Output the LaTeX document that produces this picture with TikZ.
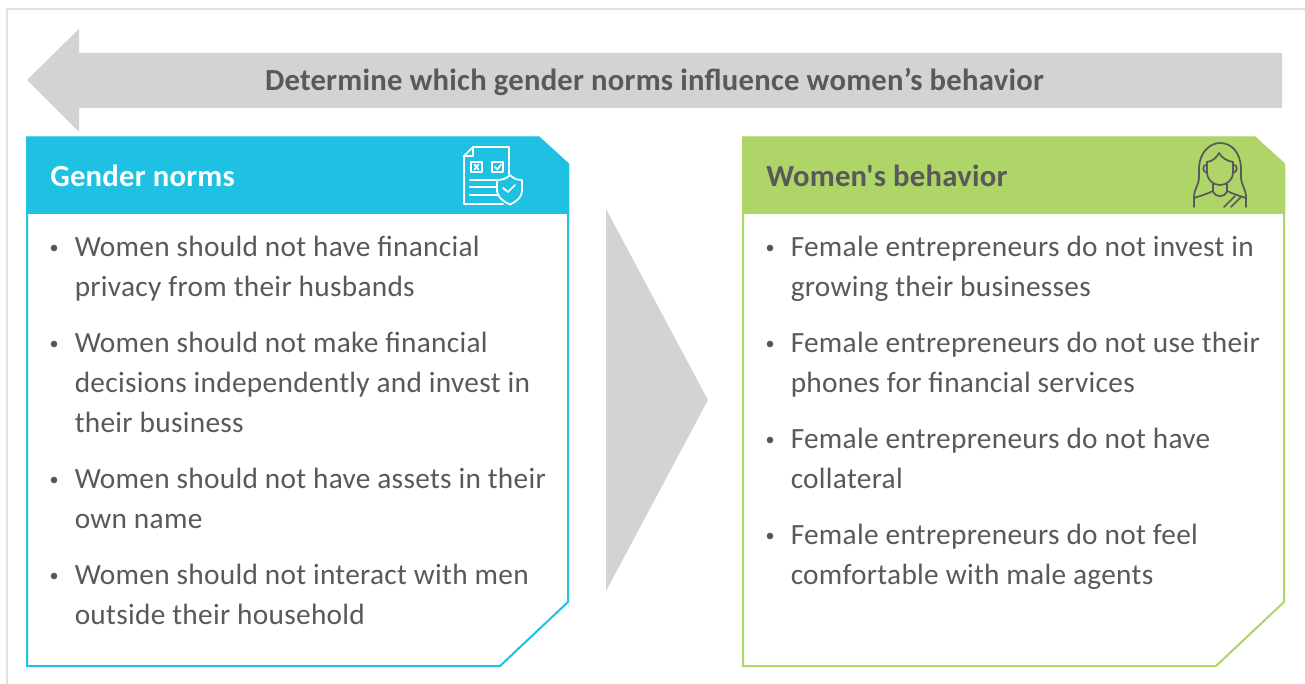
\documentclass[tikz,border=0pt]{standalone}
\usepackage{fontspec}
\setmainfont{Open Sans}
\newfontfamily\bodyfont[LetterSpace=1.0]{Carlito}
\newfontfamily\headfont[LetterSpace=0.8,BoldFont=Carlito Bold]{Carlito}
\definecolor{arrowgray}{HTML}{D1D3D4}
\definecolor{textgray}{HTML}{58595B}
\definecolor{framegray}{HTML}{E2E2E2}
\definecolor{normblue}{HTML}{1FC1E2}
\definecolor{behavgreen}{HTML}{AFD468}
\tikzset{
 x=0.75pt,y=-0.75pt,
 itemtext/.style={inner sep=0pt,align=left,text=textgray,font=\bodyfont\fontsize{22}{30}\selectfont},
 bulletdot/.style={circle,fill=textgray,inner sep=0pt,minimum size=5pt},
 headtext/.style={anchor=base west,inner sep=0pt,font=\headfont\bfseries\fontsize{23}{26}\selectfont},
 iconline/.style={line width=1.3pt,line cap=round,line join=round},
}
\begin{document}
\begin{tikzpicture}
\useasboundingbox (0,0) rectangle (1305,684);
\fill[white] (0,0) rectangle (1305,684);
\draw[framegray,line width=1.2pt] (1305,9) -- (7,9) -- (7,684);
% top arrow
\fill[arrowgray] (27,80) -- (79,29) -- (79,53) -- (1282,53) -- (1282,108) -- (79,108) -- (79,132) -- cycle;
\node[anchor=base,inner sep=0pt,text=textgray,font=\headfont\bfseries\fontsize{23}{26}\selectfont] (title) at (654.5,90.6) {Determine which gender norms influence women’s behavior};
% left panel
\draw[normblue,line width=1.5pt,fill=white] (27,137.5) -- (539,137.5) -- (568,164) -- (568,602) -- (500,666) -- (27,666) -- cycle;
\fill[normblue] (26.2,137) -- (539,137) -- (569,164) -- (569,214) -- (26.2,214) -- cycle;
\node[headtext,text=white] (lhead) at (50,187) {Gender norms};
% right panel
\draw[behavgreen,line width=1.5pt,fill=white] (743,137.5) -- (1255,137.5) -- (1284,164) -- (1284,602) -- (1216,666) -- (743,666) -- cycle;
\fill[behavgreen] (742.2,137) -- (1255,137) -- (1285,164) -- (1285,214) -- (742.2,214) -- cycle;
\node[headtext,text=textgray] (rhead) at (766,187) {Women's behavior};
% middle arrow
\fill[arrowgray] (606,209) -- (708,400) -- (606,591) -- cycle;
% left items
\foreach \yy/\txt in {256/{Women should not have financial\\privacy from their husbands},
 352/{Women should not make financial\\decisions independently and invest in\\their business},
 488/{Women should not have assets in their\\own name},
 584/{Women should not interact with men\\outside their household}}{
 \node[bulletdot] at (54,\yy-8) {};
 \node[itemtext,anchor=north west] at (74.5,\yy-20) {\txt};
}
\foreach \yy/\txt in {256/{Female entrepreneurs do not invest in\\growing their businesses},
 352/{Female entrepreneurs do not use their\\phones for financial services},
 448/{Female entrepreneurs do not have\\collateral},
 544/{Female entrepreneurs do not feel\\comfortable with male agents}}{
 \node[bulletdot] at (770,\yy-8) {};
 \node[itemtext,anchor=north west] at (790.5,\yy-20) {\txt};
}
% document icon
\begin{scope}[white,iconline]
\draw (509,174) -- (509,147) -- (473,147) -- (464,156) -- (464,204) -- (503,204);
\draw (473,147) -- (473,156) -- (464,156);
\draw (471,162) rectangle (482,172);
\draw (492,162) rectangle (503,172);
\draw (474.5,164.5) -- (478.5,169.5) (478.5,164.5) -- (474.5,169.5);
\draw (495,167) -- (497.5,169.5) -- (501,164.5);
\draw (470,180) -- (497,180) (470,187) -- (497,187) (470,195) -- (499,195);
\draw (510,175) .. controls (506,179) and (502,180) .. (497,180) -- (497,191) .. controls (497,197) and (504,202) .. (510,204.5) .. controls (516,202) and (522,197) .. (522,191) -- (522,180) .. controls (517,180) and (514,179) .. (510,175) -- cycle;
\draw (503,188) -- (508,192) -- (515,185);
\end{scope}
% woman icon
\begin{scope}[textgray,iconline]
\draw (1194,207) -- (1194,196) .. controls (1194,190) and (1199,184) .. (1199,178) -- (1199,167) .. controls (1200,152) and (1210,143) .. (1220,143) .. controls (1232,143) and (1240,153) .. (1241,167) -- (1241,178) .. controls (1241,184) and (1246,190) .. (1246,196) -- (1246,207);
\draw (1207,162) .. controls (1213,161) and (1216,158) .. (1219,153) .. controls (1222,158) and (1227,161) .. (1233,162);
\draw (1207,162) -- (1207,172) .. controls (1207,180) and (1213,185) .. (1220,185) .. controls (1227,185) and (1233,180) .. (1233,172) -- (1233,162);
\draw (1207,165) .. controls (1202,164) and (1202,172) .. (1207,173);
\draw (1233,165) .. controls (1238,164) and (1238,172) .. (1233,173);
\draw (1213,184) -- (1213,191) .. controls (1207,194) and (1200,196) .. (1194,198);
\draw (1227,184) -- (1227,191) .. controls (1233,194) and (1240,196) .. (1246,198);
\draw (1213,191) .. controls (1215,198) and (1225,198) .. (1227,191);
\draw (1235,196) -- (1224,207) (1241,197) -- (1231,207);
\end{scope}
\end{tikzpicture}
\end{document}
